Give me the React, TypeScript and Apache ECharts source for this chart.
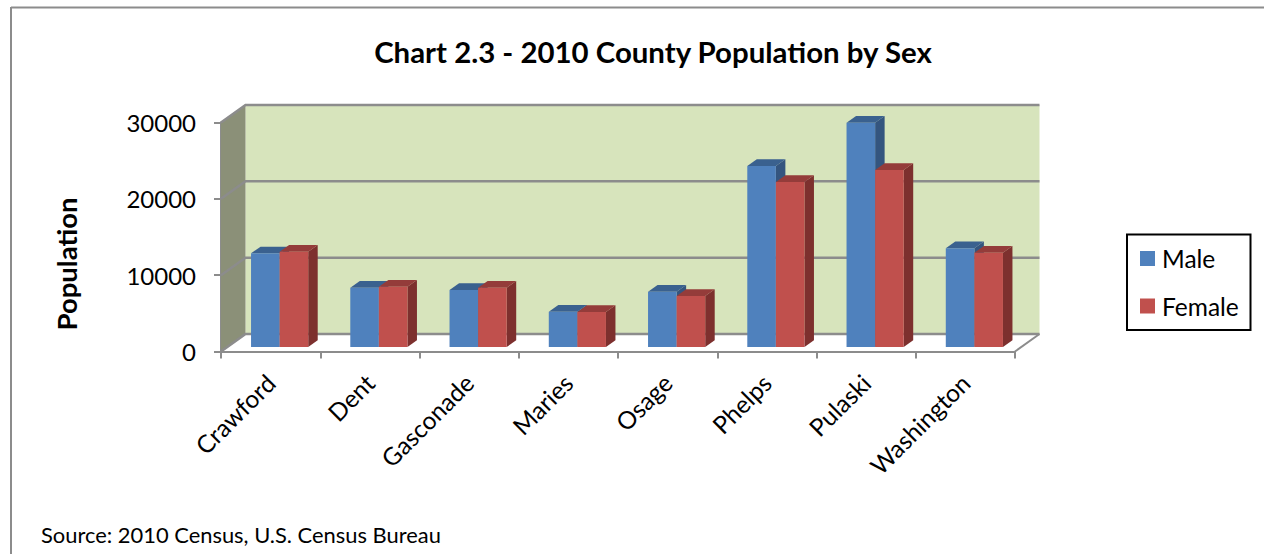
import React, { useEffect, useRef } from "react";
import * as echarts from "echarts";

const categories = ["Crawford", "Dent", "Gasconade", "Maries", "Osage", "Phelps", "Pulaski", "Washington"];
const maleValues = [12270, 7770, 7470, 4620, 7250, 23710, 29390, 12930];
const femaleValues = [12480, 7900, 7770, 4585, 6680, 21620, 23190, 12350];
const yTicks = [0, 10000, 20000, 30000];
const FONT = "Lato, 'Open Sans', sans-serif";
const GRAY = "#8c8c8c";

const WALL_DX = 24.5;
const WALL_DY = -17.5;
const BAR_DX = 9;
const BAR_DY = -4.5;
const DEPTH_X = 9.5;
const DEPTH_Y = -6.7;
const BAR_FRACTION = 0.288;

function barSeries(name: string, values: number[], side: -1 | 1, front: string, top: string, right: string) {
  return {
    type: "custom",
    name,
    itemStyle: { color: front },
    data: values.map((v, i) => [i, v]),
    encode: { x: 0, y: 1 },
    z: 5,
    renderItem: (_p: any, api: any) => {
      const cat = api.value(0);
      const val = api.value(1);
      const base = api.coord([cat, 0]);
      const head = api.coord([cat, val]);
      const w = api.size([1, 0])[0] * BAR_FRACTION;
      const x0 = base[0] + BAR_DX + (side < 0 ? -w : 0);
      const x1 = x0 + w;
      const yb = base[1] + BAR_DY;
      const yt = head[1] + BAR_DY;
      return {
        type: "group",
        children: [
          {
            type: "polygon",
            shape: { points: [[x1, yt], [x1 + DEPTH_X, yt + DEPTH_Y], [x1 + DEPTH_X, yb + DEPTH_Y], [x1, yb]] },
            style: { fill: right },
          },
          {
            type: "polygon",
            shape: { points: [[x0, yt], [x0 + DEPTH_X, yt + DEPTH_Y], [x1 + DEPTH_X, yt + DEPTH_Y], [x1, yt]] },
            style: { fill: top },
          },
          { type: "rect", shape: { x: x0, y: yt, width: w, height: yb - yt }, style: { fill: front } },
        ],
      };
    },
  };
}

export default function App() {
  const ref = useRef<HTMLDivElement>(null);
  useEffect(() => {
    const chart = echarts.init(ref.current!, null, { renderer: "svg" });
    const n = categories.length;
    chart.setOption({
      animation: false,
      backgroundColor: "#ffffff",
      textStyle: { fontFamily: FONT },
      title: {
        text: "Chart 2.3 - 2010 County Population by Sex",
        left: 648,
        top: 32,
        textAlign: "center",
        textStyle: { fontFamily: FONT, fontSize: 29.4, fontWeight: "bold", color: "#000" },
      },
      legend: {
        show: true,
        data: ["Male", "Female"],
        orient: "vertical",
        left: 1140,
        top: 246,
        padding: 0,
        itemWidth: 15,
        itemHeight: 15,
        itemGap: 22.5,
        icon: "rect",
        textStyle: { fontFamily: FONT, fontSize: 24.5, color: "#000", padding: [0, 0, 0, 2] },
      },
      grid: { left: 221, top: 122.5, width: 794, height: 229 },
      xAxis: {
        type: "category",
        data: categories,
        boundaryGap: true,
        axisLine: { show: true, lineStyle: { color: GRAY, width: 2 } },
        axisTick: { show: true, length: 7, alignWithLabel: false, lineStyle: { color: GRAY, width: 2 } },
        axisLabel: { rotate: 45, interval: 0, fontFamily: FONT, fontSize: 24.5, color: "#000", margin: 27 },
        splitLine: { show: false },
      },
      yAxis: {
        type: "value",
        min: 0,
        max: 30000,
        interval: 10000,
        name: "Population",
        nameLocation: "middle",
        nameGap: 141,
        nameTextStyle: { fontFamily: FONT, fontSize: 27.5, fontWeight: "bold", color: "#000", padding: [0, 54, 0, 0] },
        axisLine: { show: true, lineStyle: { color: GRAY, width: 3 } },
        axisTick: { show: true, length: 7, lineStyle: { color: GRAY, width: 2 } },
        axisLabel: { fontFamily: FONT, fontSize: 24, color: "#000", margin: 25, formatter: (v: number) => String(v) },
        splitLine: { show: false },
      },
      series: [
        {
          type: "custom",
          name: "walls",
          silent: true,
          z: 1,
          data: [[0, 30000]],
          encode: { x: 0, y: 1 },
          renderItem: (_p: any, api: any) => {
            const bandW = api.size([1, 0])[0];
            const b = api.coord([0, 0]);
            const t = api.coord([0, api.value(1)]);
            const left = b[0] - bandW / 2;
            const right = left + bandW * n;
            return {
              type: "group",
              children: [
                {
                  type: "polygon",
                  shape: { points: [[left + WALL_DX, t[1] + WALL_DY], [right + WALL_DX, t[1] + WALL_DY], [right + WALL_DX, b[1] + WALL_DY], [left + WALL_DX, b[1] + WALL_DY]] },
                  style: { fill: "#d7e4bc" },
                },
                {
                  type: "polygon",
                  shape: { points: [[left, t[1]], [left + WALL_DX, t[1] + WALL_DY], [left + WALL_DX, b[1] + WALL_DY], [left, b[1]]] },
                  style: { fill: "#8b9078" },
                },
                {
                  type: "line",
                  shape: { x1: right, y1: b[1], x2: right + WALL_DX, y2: b[1] + WALL_DY },
                  style: { stroke: GRAY, lineWidth: 2 },
                },
              ],
            };
          },
        },
        {
          type: "custom",
          name: "gridlines",
          silent: true,
          z: 2,
          data: yTicks.map((v) => [0, v]),
          encode: { x: 0, y: 1 },
          renderItem: (_p: any, api: any) => {
            const bandW = api.size([1, 0])[0];
            const c = api.coord([0, api.value(1)]);
            const left = c[0] - bandW / 2;
            const right = left + bandW * n;
            return {
              type: "polyline",
              shape: { points: [[left, c[1]], [left + WALL_DX, c[1] + WALL_DY], [right + WALL_DX, c[1] + WALL_DY]] },
              style: { stroke: GRAY, lineWidth: 2.5, fill: "none" },
            };
          },
        },
        barSeries("Male", maleValues, -1, "#4f81bd", "#3a618f", "#34557f"),
        barSeries("Female", femaleValues, 1, "#c0504d", "#943c3a", "#7d302e"),
      ],
      graphic: [
        { type: "line", shape: { x1: 11, y1: 7.5, x2: 1264, y2: 7.5 }, style: { stroke: GRAY, lineWidth: 2 } },
        { type: "line", shape: { x1: 11, y1: 7, x2: 11, y2: 554 }, style: { stroke: GRAY, lineWidth: 2 } },
        { type: "rect", shape: { x: 1127, y: 234.5, width: 123.5, height: 95.5 }, style: { fill: "none", stroke: "#000", lineWidth: 2 } },
        { type: "text", x: 41, y: 523, style: { text: "Source: 2010 Census, U.S. Census Bureau", fontFamily: FONT, fontSize: 21.9, fill: "#000" } },
      ],
    });
    return () => chart.dispose();
  }, []);
  return <div ref={ref} style={{ position: "fixed", left: 0, top: 0, width: 1264, height: 554 }} />;
}
